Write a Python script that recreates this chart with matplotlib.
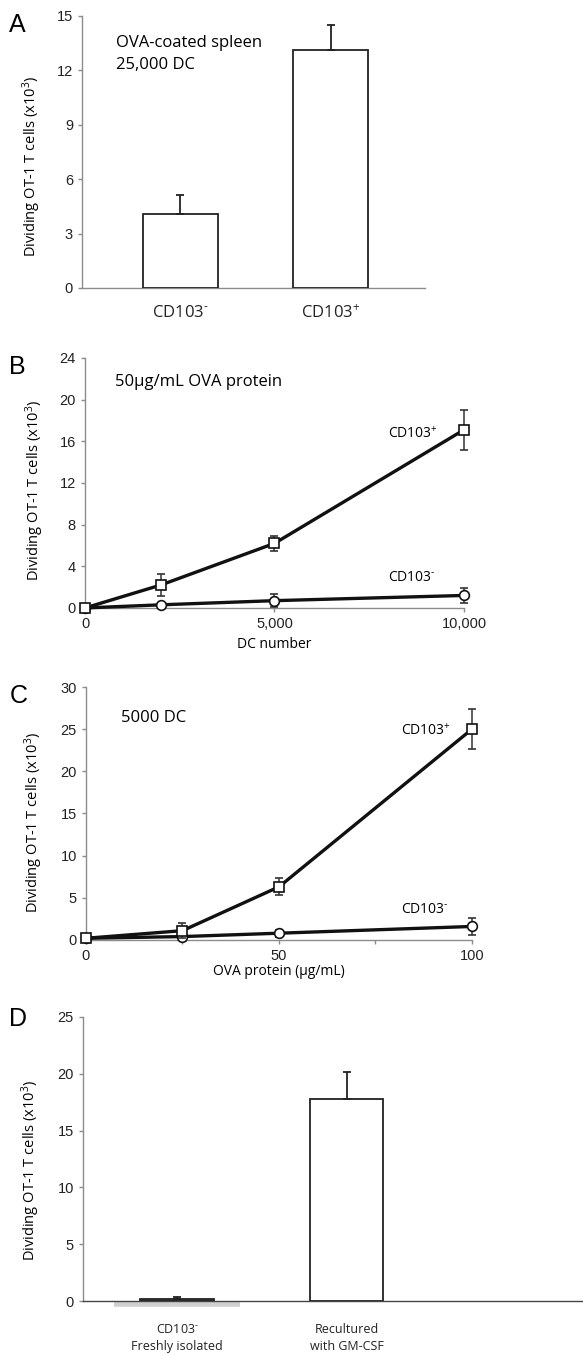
import matplotlib
matplotlib.use("Agg")
import matplotlib.pyplot as plt

plt.rcParams['font.family'] = ['Liberation Sans', 'DejaVu Sans']
plt.rcParams['mathtext.fontset'] = 'custom'
plt.rcParams['mathtext.rm'] = 'Liberation Sans'
plt.rcParams['mathtext.default'] = 'regular'

# panel A
a_labels = [r'CD103$^{\text{-}}$', 'CD103$^{+}$']
a_values = [4.1, 13.15]
a_err = [1.05, 1.35]

# panel B
b_dc = [0, 2000, 5000, 10000]
b_pos = [0, 2.2, 6.2, 17.1]
b_pos_err = [0, 1.1, 0.7, 1.9]
b_neg = [0, 0.3, 0.7, 1.2]
b_neg_err = [0, 0.2, 0.6, 0.7]

# panel C
c_ova = [0, 25, 50, 100]
c_pos = [0.2, 1.1, 6.3, 25.0]
c_pos_err = [0, 0.9, 1.0, 2.4]
c_neg = [0.2, 0.4, 0.8, 1.6]
c_neg_err = [0, 0.3, 0.4, 1.0]

# panel D
d_labels = [r'CD103$^{\text{-}}$' + '\nFreshly isolated', 'Recultured\nwith GM-CSF']
d_values = [0.15, 17.8]
d_err = [0.25, 2.4]

axis_gray = '#8c8c8c'
ylab = 'Dividing OT-1 T cells (x10$^{3}$)'
txt_font = ['Open Sans', 'DejaVu Sans']


def style(ax):
    for s in ['top', 'right']:
        ax.spines[s].set_visible(False)
    for s in ['left', 'bottom']:
        ax.spines[s].set_color(axis_gray)
        ax.spines[s].set_linewidth(1.0)
    ax.tick_params(colors=axis_gray, labelcolor='#222222', length=3, width=1.0,
                   labelsize=10.5)


fig = plt.figure(figsize=(5.83, 13.54), dpi=100)

# ---- A ----
ax = fig.add_axes([0.1407, 0.7873, 0.588, 0.2009])
style(ax)
ax.bar([0, 1], a_values, width=0.5, color='white', edgecolor='#222222', linewidth=1.3,
       yerr=[[0, 0], a_err], error_kw=dict(ecolor='#222222', elinewidth=1.3, capsize=3, capthick=1.3),
       zorder=3)
ax.set_xlim(-0.654, 1.625)
ax.set_ylim(0, 15)
ax.set_yticks([0, 3, 6, 9, 12, 15])
ax.set_xticks([0, 1])
ax.set_xticklabels(a_labels, fontsize=12, family=txt_font)
ax.tick_params(axis='x', length=0, pad=12)
ax.set_ylabel(ylab, fontsize=10.5, family=txt_font)
ax.yaxis.set_label_coords(-0.114, 0.445)
ax.text(0.1, 0.93, 'OVA-coated spleen\n25,000 DC', transform=ax.transAxes, fontsize=12,
        family=txt_font, va='top', linespacing=1.5)
fig.text(0.016, 0.9815, 'A', fontsize=18, va='center')


def line_panel(ax, x, pos, pos_err, neg, neg_err):
    style(ax)
    ax.errorbar(x, neg, yerr=neg_err, color='#111111', lw=2.4, marker='o', ms=7,
                mfc='white', mec='#111111', mew=1.2, ecolor='#333333', elinewidth=1.1,
                capsize=3, capthick=1.1, zorder=3, clip_on=False)
    ax.errorbar(x, pos, yerr=pos_err, color='#111111', lw=2.4, marker='s', ms=7,
                mfc='white', mec='#111111', mew=1.2, ecolor='#333333', elinewidth=1.1,
                capsize=3, capthick=1.1, zorder=4, clip_on=False)


# ---- B ----
ax = fig.add_axes([0.1458, 0.5510, 0.650, 0.1846])
line_panel(ax, b_dc, b_pos, b_pos_err, b_neg, b_neg_err)
ax.set_xlim(0, 10000)
ax.set_ylim(0, 24)
ax.set_yticks([0, 4, 8, 12, 16, 20, 24])
ax.set_xticks([0, 5000, 10000])
ax.set_xticklabels(['0', '5,000', '10,000'])
ax.set_xlabel('DC number', fontsize=10, family=txt_font, labelpad=4)
ax.set_ylabel(ylab, fontsize=10.5, family=txt_font)
ax.yaxis.set_label_coords(-0.103, 0.468)
ax.text(0.08, 0.935, '50\u03bcg/mL OVA protein', transform=ax.transAxes, fontsize=12,
        family=txt_font, va='top')
ax.text(8000, 16.3, 'CD103$^{+}$', fontsize=10, family=txt_font)
ax.text(8000, 2.6, r'CD103$^{\text{-}}$', fontsize=10, family=txt_font)
fig.text(0.016, 0.729, 'B', fontsize=18, va='center')

# ---- C ----
ax = fig.add_axes([0.1475, 0.3058, 0.662, 0.1868])
line_panel(ax, c_ova, c_pos, c_pos_err, c_neg, c_neg_err)
ax.set_xlim(0, 100)
ax.set_ylim(0, 30)
ax.set_yticks([0, 5, 10, 15, 20, 25, 30])
ax.set_xticks([0, 25, 50, 75, 100])
ax.set_xticklabels(['0', '', '50', '', '100'])
ax.set_xlabel('OVA protein (\u03bcg/mL)', fontsize=10, family=txt_font, labelpad=1)
ax.set_ylabel(ylab, fontsize=10.5, family=txt_font)
ax.yaxis.set_label_coords(-0.106, 0.466)
ax.text(0.09, 0.91, '5000 DC', transform=ax.transAxes, fontsize=12,
        family=txt_font, va='top')
ax.text(81.5, 24.3, 'CD103$^{+}$', fontsize=10, family=txt_font)
ax.text(81.5, 3.2, r'CD103$^{\text{-}}$', fontsize=10, family=txt_font)
fig.text(0.016, 0.486, 'C', fontsize=18, va='center')

# ---- D ----
ax = fig.add_axes([0.1424, 0.0391, 0.8576, 0.2098])
style(ax)
ax.spines['bottom'].set_color('#444444')
ax.plot([-0.37, 0.37], [-0.22, -0.22], color='#cfcfcf', lw=4, solid_capstyle='butt',
        clip_on=False, zorder=1)
ax.bar([0, 1], d_values, width=0.434, color=['#777777', 'white'], edgecolor='#222222',
       linewidth=1.3, yerr=[[0, 0], d_err],
       error_kw=dict(ecolor='#222222', elinewidth=1.3, capsize=3, capthick=1.3), zorder=3)
ax.set_xlim(-0.555, 2.395)
ax.set_ylim(0, 25)
ax.set_yticks([0, 5, 10, 15, 20, 25])
ax.set_xticks([0, 1])
ax.set_xticklabels(d_labels, fontsize=9, family=txt_font, linespacing=1.35)
ax.tick_params(axis='x', length=0, pad=16)
ax.set_ylabel(ylab, fontsize=10.5, family=txt_font)
ax.yaxis.set_label_coords(-0.082, 0.458)
fig.text(0.016, 0.2475, 'D', fontsize=18, va='center')

fig.savefig('out.png', dpi=100)
